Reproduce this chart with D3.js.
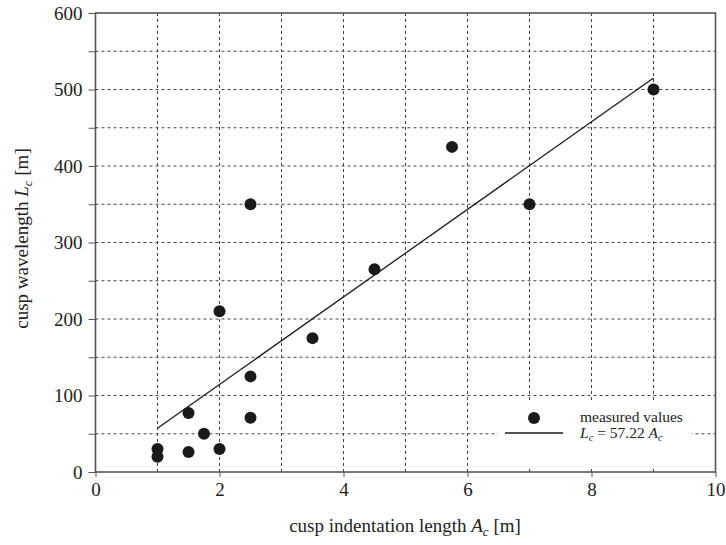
<!DOCTYPE html>
<html><head><meta charset="utf-8">
<script src="https://cdn.jsdelivr.net/npm/d3@7"></script>
<style>body{margin:0;background:#fff}</style>
</head><body><svg id="c" width="726" height="545"></svg>
<script>
const indentation = [1, 1, 1.5, 1.5, 1.75, 2, 2, 2.5, 2.5, 2.5, 3.5, 4.5, 5.75, 7, 9];
const wavelength = [30, 20, 77, 26, 50, 30, 210, 71, 125, 350, 175, 265, 425, 350, 500];
const fitSlope = 57.22;
const fitRange = [1, 9];
const xTicks = [0, 2, 4, 6, 8, 10];
const yTicks = [0, 100, 200, 300, 400, 500, 600];
const FONT = "Liberation Serif, DejaVu Serif, serif";

const svg = d3.select("#c");
const m = {l: 95.5, r: 715.5, t: 13, b: 472};
const x = d3.scaleLinear().domain([0, 10]).range([m.l, m.r]);
const y = d3.scaleLinear().domain([0, 600]).range([m.b, m.t]);

// grid
const g = svg.append("g").attr("stroke", "#444").attr("stroke-width", 1).attr("stroke-dasharray", "3,3");
d3.range(1, 10).forEach(v => g.append("line").attr("x1", x(v)).attr("x2", x(v)).attr("y1", m.b).attr("y2", m.t));
d3.range(50, 600, 50).forEach(v => g.append("line").attr("x1", m.l).attr("x2", m.r).attr("y1", y(v)).attr("y2", y(v)));

// axes
const xAxis = svg.append("g").attr("transform", `translate(0,${m.b})`)
  .call(d3.axisBottom(x).tickValues(xTicks).tickSize(5).tickPadding(6).tickFormat(d3.format("d")));
const yAxis = svg.append("g").attr("transform", `translate(${m.l},0)`)
  .call(d3.axisLeft(y).tickValues(yTicks).tickSize(7).tickPadding(6).tickFormat(d3.format("d")));
svg.append("g").attr("transform", `translate(${m.l},0)`)
  .call(d3.axisLeft(y).tickValues(d3.range(50, 600, 100)).tickSize(7).tickFormat(""))
  .call(s => s.select(".domain").remove());
[xAxis, yAxis].forEach(a => {
  a.attr("font-family", FONT).attr("font-size", 19);
  a.selectAll("text").attr("fill", "#222");
  a.select(".domain").attr("stroke", "none");
});
svg.selectAll(".tick line").attr("stroke", "#555");
// frame
svg.append("rect").attr("x", m.l).attr("y", m.t).attr("width", m.r - m.l).attr("height", m.b - m.t)
  .attr("fill", "none").attr("stroke", "#555").attr("stroke-width", 1.6);

// fit line
svg.append("line").attr("x1", x(fitRange[0])).attr("y1", y(fitSlope * fitRange[0]))
  .attr("x2", x(fitRange[1])).attr("y2", y(fitSlope * fitRange[1]))
  .attr("stroke", "#1a1a1a").attr("stroke-width", 1.3);

// points
svg.append("g").selectAll("circle").data(indentation.map((a, i) => [a, wavelength[i]])).join("circle")
  .attr("cx", d => x(d[0])).attr("cy", d => y(d[1])).attr("r", 6).attr("fill", "#1a1a1a");

// legend
const lg = svg.append("g").attr("font-family", FONT).attr("fill", "#222");
lg.append("rect").attr("x", 498).attr("y", 402).attr("width", 194).attr("height", 64).attr("fill", "#fff");
lg.append("circle").attr("cx", 534).attr("cy", 418).attr("r", 6).attr("fill", "#1a1a1a");
lg.append("line").attr("x1", 505).attr("x2", 563).attr("y1", 433).attr("y2", 433).attr("stroke", "#1a1a1a").attr("stroke-width", 1.3);
lg.append("text").attr("x", 580).attr("y", 422).attr("font-size", 15.5).text("measured values");
const t2 = lg.append("text").attr("x", 580).attr("y", 438).attr("font-size", 15.5);
t2.append("tspan").attr("font-style", "italic").text("L");
t2.append("tspan").attr("font-style", "italic").attr("font-size", 10.5).attr("dy", 3).text("c");
t2.append("tspan").attr("dy", -3).text(" = 57.22 ");
t2.append("tspan").attr("font-style", "italic").text("A");
t2.append("tspan").attr("font-style", "italic").attr("font-size", 10.5).attr("dy", 3).text("c");

// axis titles
const xt = svg.append("text").attr("x", 405).attr("y", 532).attr("text-anchor", "middle")
  .attr("font-family", FONT).attr("font-size", 19).attr("fill", "#222");
xt.append("tspan").text("cusp indentation length ");
xt.append("tspan").attr("font-style", "italic").text("A");
xt.append("tspan").attr("font-style", "italic").attr("font-size", 13).attr("dy", 4).text("c");
xt.append("tspan").attr("dy", -4).text(" [m]");
const yt = svg.append("text").attr("transform", `translate(28,${(m.t + m.b) / 2 - 4}) rotate(-90)`).attr("text-anchor", "middle")
  .attr("font-family", FONT).attr("font-size", 19).attr("fill", "#222");
yt.append("tspan").text("cusp wavelength ");
yt.append("tspan").attr("font-style", "italic").text("L");
yt.append("tspan").attr("font-style", "italic").attr("font-size", 13).attr("dy", 4).text("c");
yt.append("tspan").attr("dy", -4).text(" [m]");
</script></body></html>
